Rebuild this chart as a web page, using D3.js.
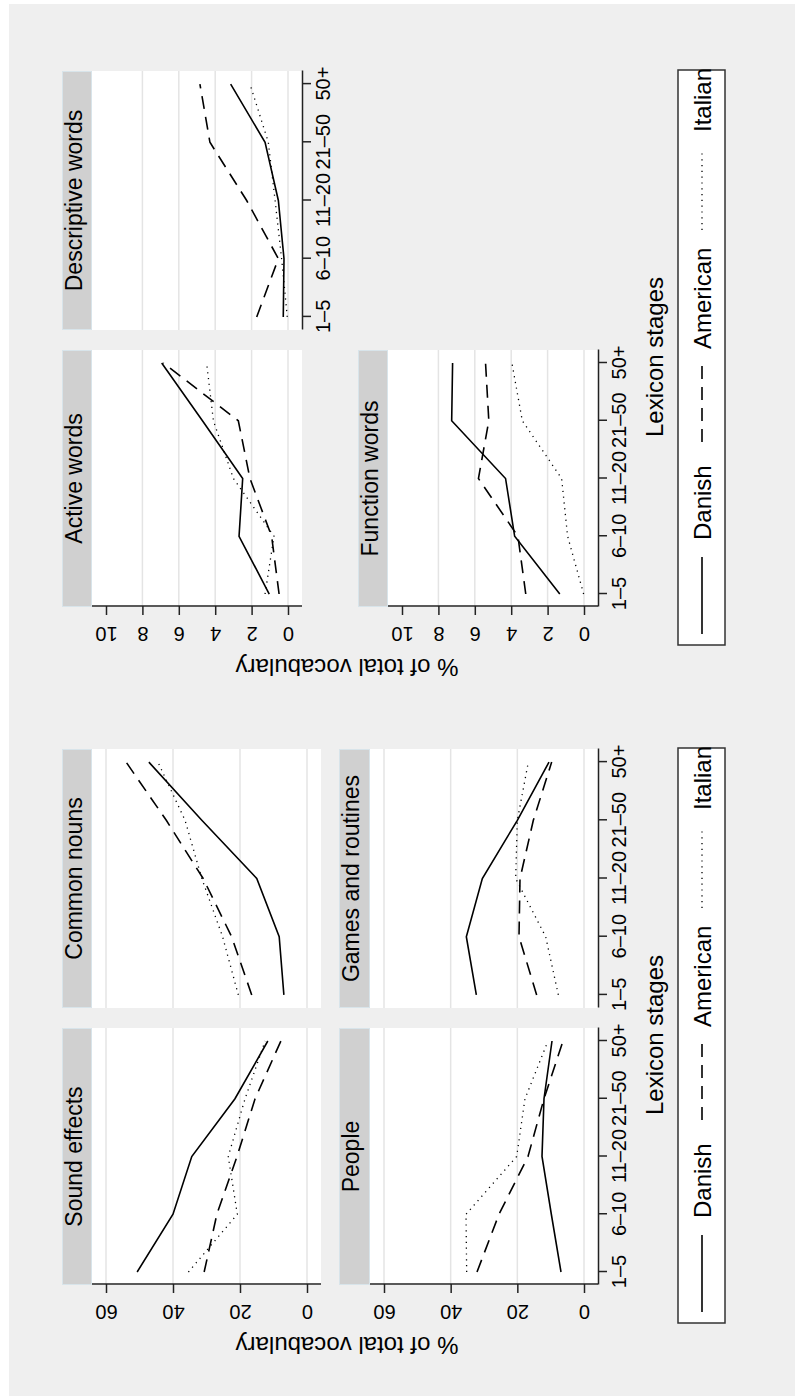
<!DOCTYPE html>
<html>
<head>
<meta charset="utf-8">
<script src="https://cdn.jsdelivr.net/npm/d3@7"></script>
<style>
  body { margin: 0; background: #ffffff; }
  text { font-family: "Liberation Sans", Arial, sans-serif; fill: #000; }
</style>
</head>
<body>
<div id="chart"></div>
<script>

// categories
const stages = ["1–5", "6–10", "11–20", "21–50", "50+"];
const languages = ["Danish", "American", "Italian"];

// % of total vocabulary, rows = Danish, American, Italian
const soundEffects = [
	[50.7, 40.0, 34.4, 21.5, 11.7],
	[30.7, 26.9, 20.9, 15.5, 7.8],
	[35.4, 20.8, 23.5, 18.5, 12.5]
];
const people = [
	[6.9, 9.8, 12.6, 12.0, 9.6],
	[32.1, 25.5, 16.8, 12.0, 6.3],
	[35.2, 35.4, 20.2, 17.7, 10.8]
];
const commonNouns = [
	[6.9, 8.3, 15.0, 31.4, 47.2],
	[16.5, 22.5, 31.0, 42.0, 54.0],
	[20.5, 25.2, 31.4, 36.4, 44.5]
];
const gamesRoutines = [
	[32.3, 35.3, 30.5, 20.0, 10.5],
	[14.2, 19.5, 19.2, 15.2, 9.7],
	[7.7, 11.5, 20.5, 20.0, 16.7]
];
const activeWords = [
	[1.03, 2.69, 2.49, 4.7, 6.94],
	[0.49, 0.9, 2.09, 2.73, 6.85],
	[1.26, 0.77, 3.0, 4.1, 4.47]
];
const functionWords = [
	[1.33, 3.81, 4.31, 7.27, 7.22],
	[3.2, 3.63, 5.8, 5.23, 5.41],
	[0.02, 0.9, 1.23, 3.39, 3.96]
];
const descriptiveWords = [
	[0.26, 0.22, 0.53, 1.26, 3.15],
	[1.72, 0.53, 2.27, 4.29, 4.84],
	[0.04, 0.35, 0.71, 1.08, 2.09]
];

// tick labels
const ticksLeft = [0, 20, 40, 60];
const ticksRight = [0, 2, 4, 6, 8, 10];

const dashes = [null, "13,8", "1.2,4.6"];

const imgW = 795, imgH = 1396;

const svg = d3.select("#chart").append("svg")
	.attr("width", imgW)
	.attr("height", imgH);

svg.append("rect")
	.attr("x", 9).attr("y", 4)
	.attr("width", imgW - 9).attr("height", imgH - 4)
	.attr("fill", "#efefef");

// the chart is drawn landscape and turned a quarter turn
const root = svg.append("g")
	.attr("transform", "translate(0," + imgH + ") rotate(-90)");

function drawGraph( dx, cfg ) {

	const g = root.append("g").attr("transform", "translate(" + dx + ",0)");

	cfg.panels.forEach(function(p) {
		const row = cfg.rows[p.row];
		const col = cfg.cols[p.col];

		const x = d3.scalePoint()
			.domain(stages)
			.range(col)
			.padding(0.225);

		const y = d3.scaleLinear()
			.domain([0, cfg.max])
			.range([row.bottom - 14, row.top + 14]);

		const pg = g.append("g");

		pg.append("rect")
			.attr("x", col[0]).attr("y", row.top)
			.attr("width", col[1] - col[0]).attr("height", row.bottom - row.top)
			.attr("fill", "#ffffff");

		pg.selectAll("line.grid")
			.data(cfg.ticks.filter(function(t) { return cfg.grid(t) }))
			.enter().append("line")
				.attr("class", "grid")
				.attr("x1", col[0]).attr("x2", col[1])
				.attr("y1", function(d) { return y(d) })
				.attr("y2", function(d) { return y(d) })
				.attr("stroke", "#e4e4e4")
				.attr("stroke-width", 1.5);

		// strip
		pg.append("rect")
			.attr("x", col[0] + 0.5).attr("y", row.strip + 0.5)
			.attr("width", col[1] - col[0] - 1).attr("height", row.top - row.strip - 1)
			.attr("fill", "#d0d0d0")
			.attr("stroke", "#d8e4ea");
		pg.append("text")
			.attr("x", (col[0] + col[1]) / 2)
			.attr("y", row.strip + 20)
			.attr("text-anchor", "middle")
			.attr("font-size", 23)
			.text(p.title);

		const line = d3.line()
			.x(function(d, i) { return x(stages[i]) })
			.y(function(d) { return y(d) });

		pg.selectAll("path.series")
			.data(p.data)
			.enter().append("path")
				.attr("class", "series")
				.attr("d", line)
				.attr("fill", "none")
				.attr("stroke", "#000")
				.attr("stroke-width", function(d, i) { return i === 2 ? 1.3 : 1.6 })
				.attr("stroke-dasharray", function(d, i) { return dashes[i] });

		if( p.yAxis ) {
			const ax = pg.append("g")
				.attr("transform", "translate(" + (col[0] + 1) + ",0)")
				.call(d3.axisLeft(y).tickValues(cfg.ticks).tickSize(9).tickSizeOuter(0));
			ax.select(".domain").remove();
			ax.selectAll(".tick line").attr("stroke", "#222").attr("stroke-width", 1.5);
			ax.selectAll(".tick text")
				.attr("x", null).attr("dy", null)
				.attr("transform", "translate(-21,0) rotate(-90)")
				.attr("text-anchor", "middle")
				.attr("font-size", 20)
				.attr("font-family", null)
				.attr("fill", "#000");
			ax.append("line")
				.attr("y1", row.top).attr("y2", row.bottom)
				.attr("stroke", "#222").attr("stroke-width", 1.5);
		}

		if( p.xAxis ) {
			const ax = pg.append("g")
				.attr("transform", "translate(0," + row.bottom + ")")
				.call(d3.axisBottom(x).tickSize(9).tickSizeOuter(0));
			ax.select(".domain").attr("stroke", "#222").attr("stroke-width", 1.5);
			ax.selectAll(".tick line").attr("stroke", "#222").attr("stroke-width", 1.5);
			ax.selectAll(".tick text")
				.attr("y", 28).attr("dy", null)
				.attr("font-size", 20)
				.attr("font-family", null)
				.attr("fill", "#000");
		}
	});

	// axis titles
	g.append("text")
		.attr("x", 361).attr("y", 663)
		.attr("text-anchor", "middle")
		.attr("font-size", 24)
		.text("Lexicon stages");

	g.append("text")
		.attr("transform", "translate(59,347) rotate(-90)")
		.attr("text-anchor", "middle")
		.attr("font-size", 24)
		.text("% of total vocabulary");

	// legend
	const lg = g.append("g");
	lg.append("rect")
		.attr("x", 73).attr("y", 678)
		.attr("width", 575).attr("height", 47)
		.attr("fill", "#fff")
		.attr("stroke", "#333")
		.attr("stroke-width", 1.5);

	const keyX = [84, 276, 488];
	const textX = [178, 369, 586];
	languages.forEach(function(lang, i) {
		lg.append("line")
			.attr("x1", keyX[i]).attr("x2", keyX[i] + 77)
			.attr("y1", 702).attr("y2", 702)
			.attr("stroke", "#000")
			.attr("stroke-width", i === 2 ? 1.3 : 1.6)
			.attr("stroke-dasharray", dashes[i]);
		lg.append("text")
			.attr("x", textX[i]).attr("y", 711)
			.attr("font-size", 24)
			.text(lang);
	});
}

drawGraph( 0, {
	max: 60,
	ticks: ticksLeft,
	grid: function(t) { return true },
	rows: [ { strip: 62, top: 92, bottom: 321 }, { strip: 339, top: 370, bottom: 598 } ],
	cols: [ [111, 368], [388, 647] ],
	panels: [
		{ title: "Sound effects", data: soundEffects, row: 0, col: 0, yAxis: true, xAxis: false },
		{ title: "Common nouns", data: commonNouns, row: 0, col: 1, yAxis: false, xAxis: false },
		{ title: "People", data: people, row: 1, col: 0, yAxis: true, xAxis: true },
		{ title: "Games and routines", data: gamesRoutines, row: 1, col: 1, yAxis: false, xAxis: true }
	]
});

drawGraph( 678, {
	max: 10,
	ticks: ticksRight,
	grid: function(t) { return t < 10 },
	rows: [ { strip: 62, top: 92, bottom: 302 }, { strip: 358, top: 388, bottom: 598 } ],
	cols: [ [111, 368], [388, 647] ],
	panels: [
		{ title: "Active words", data: activeWords, row: 0, col: 0, yAxis: true, xAxis: false },
		{ title: "Descriptive words", data: descriptiveWords, row: 0, col: 1, yAxis: false, xAxis: true },
		{ title: "Function words", data: functionWords, row: 1, col: 0, yAxis: true, xAxis: true }
	]
});

</script>
</body>
</html>
